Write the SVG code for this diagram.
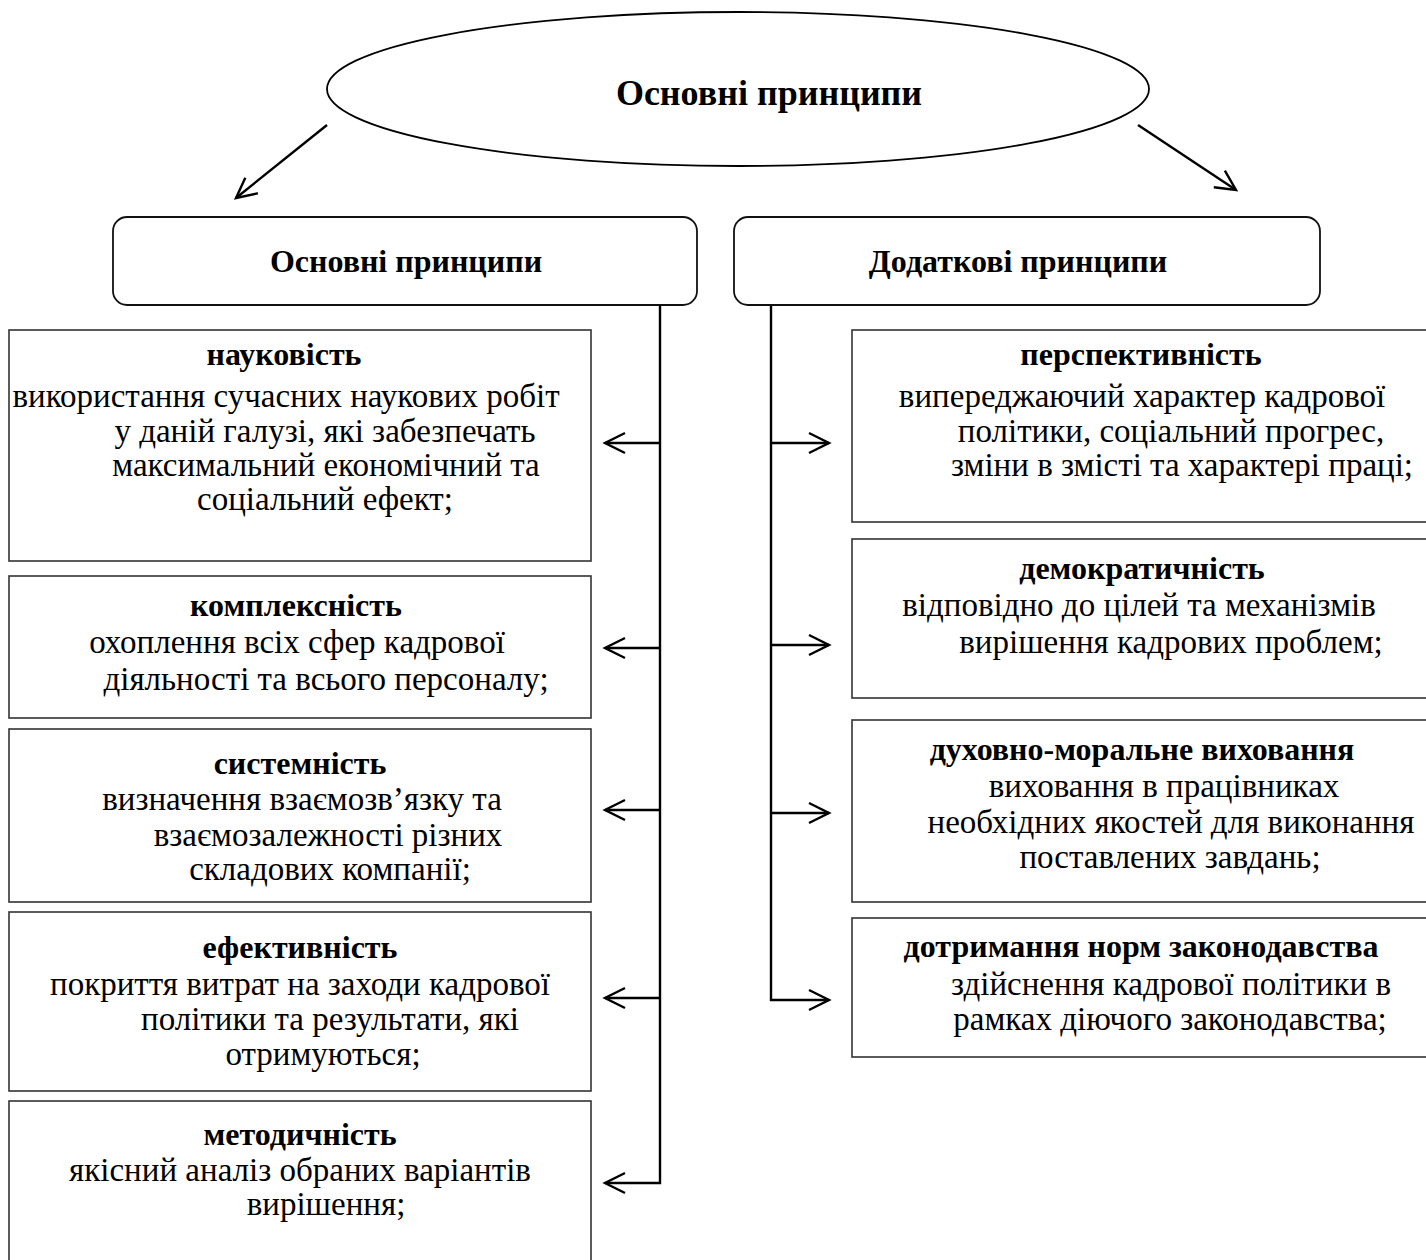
<svg xmlns="http://www.w3.org/2000/svg" width="1426" height="1260" viewBox="0 0 1426 1260">
<style>
text{font-family:"Liberation Serif","Times New Roman",serif;font-size:33px;fill:#000;text-anchor:middle}
.b{font-weight:bold;font-size:32px}
.t{font-size:36px;font-weight:bold}
.box{fill:#fff;stroke:#333;stroke-width:1.6}
.hdr{fill:#fff;stroke:#111;stroke-width:1.8}
.ln{fill:none;stroke:#000;stroke-width:2.4}
</style>
<defs>
<marker id="ah" markerUnits="userSpaceOnUse" markerWidth="26" markerHeight="26" viewBox="0 0 26 26" refX="23" refY="13" orient="auto">
<path d="M3,3 L23,13 L3,23" fill="none" stroke="#000" stroke-width="2.4"/>
</marker>
</defs>
<rect width="1426" height="1260" fill="#fff"/>

<g id="root">
<ellipse cx="738" cy="89" rx="411" ry="77" fill="#fff" stroke="#000" stroke-width="1.8"/>
<text class="t" x="769" y="105">Основні принципи</text>
</g>

<g id="connectors">
<line class="ln" x1="327" y1="125" x2="236" y2="198" marker-end="url(#ah)"/>
<line class="ln" x1="1138" y1="125" x2="1236" y2="190" marker-end="url(#ah)"/>
<polyline class="ln" points="660,305 660,1183 605,1183" marker-end="url(#ah)"/>
<line class="ln" x1="660" y1="443" x2="605" y2="443" marker-end="url(#ah)"/>
<line class="ln" x1="660" y1="648" x2="605" y2="648" marker-end="url(#ah)"/>
<line class="ln" x1="660" y1="810" x2="605" y2="810" marker-end="url(#ah)"/>
<line class="ln" x1="660" y1="998" x2="605" y2="998" marker-end="url(#ah)"/>
<polyline class="ln" points="771,305 771,1000 829,1000" marker-end="url(#ah)"/>
<line class="ln" x1="771" y1="443" x2="829" y2="443" marker-end="url(#ah)"/>
<line class="ln" x1="771" y1="645" x2="829" y2="645" marker-end="url(#ah)"/>
<line class="ln" x1="771" y1="813" x2="829" y2="813" marker-end="url(#ah)"/>
</g>

<g id="hdr-main">
<rect class="hdr" x="113" y="217" width="584" height="88" rx="14"/>
<text class="b" x="406" y="272">Основні принципи</text>
</g>
<g id="hdr-extra">
<rect class="hdr" x="734" y="217" width="586" height="88" rx="14"/>
<text class="b" x="1018" y="272">Додаткові принципи</text>
</g>

<g id="naukovist">
<rect class="box" x="9" y="330" width="582" height="231"/>
<text class="b" x="284" y="365">науковість</text>
<text x="286" y="407">використання сучасних наукових робіт</text>
<text x="325" y="442">у даній галузі, які забезпечать</text>
<text x="326" y="476">максимальний економічний та</text>
<text x="325" y="510">соціальний ефект;</text>
</g>

<g id="kompleksnist">
<rect class="box" x="9" y="576" width="582" height="142"/>
<text class="b" x="296" y="616">комплексність</text>
<text x="297" y="653">охоплення всіх сфер кадрової</text>
<text x="326" y="690">діяльності та всього персоналу;</text>
</g>

<g id="systemnist">
<rect class="box" x="9" y="729" width="582" height="173"/>
<text class="b" x="300" y="774">системність</text>
<text x="302" y="810">визначення взаємозв’язку та</text>
<text x="328" y="846">взаємозалежності різних</text>
<text x="330" y="880">складових компанії;</text>
</g>

<g id="efektyvnist">
<rect class="box" x="9" y="912" width="582" height="179"/>
<text class="b" x="300" y="958">ефективність</text>
<text x="300" y="995">покриття витрат на заходи кадрової</text>
<text x="330" y="1030">політики та результати, які</text>
<text x="323" y="1065">отримуються;</text>
</g>

<g id="metodychnist">
<rect class="box" x="9" y="1101" width="582" height="175"/>
<text class="b" x="300" y="1145">методичність</text>
<text x="300" y="1181">якісний аналіз обраних варіантів</text>
<text x="326" y="1215">вирішення;</text>
</g>

<g id="perspektyvnist">
<rect class="box" x="852" y="330" width="590" height="192"/>
<text class="b" x="1141" y="365">перспективність</text>
<text x="1142" y="407">випереджаючий характер кадрової</text>
<text x="1171" y="442">політики, соціальний прогрес,</text>
<text x="1182" y="476">зміни в змісті та характері праці;</text>
</g>

<g id="demokratychnist">
<rect class="box" x="852" y="539" width="590" height="159"/>
<text class="b" x="1142" y="579">демократичність</text>
<text x="1139" y="616">відповідно до цілей та механізмів</text>
<text x="1171" y="653">вирішення кадрових проблем;</text>
</g>

<g id="dukhovno">
<rect class="box" x="852" y="720" width="590" height="182"/>
<text class="b" x="1142" y="760">духовно-моральне виховання</text>
<text x="1164" y="797">виховання в працівниках</text>
<text x="1171" y="833">необхідних якостей для виконання</text>
<text x="1170" y="868">поставлених завдань;</text>
</g>

<g id="dotrymannia">
<rect class="box" x="852" y="918" width="590" height="139"/>
<text class="b" x="1141" y="957">дотримання норм законодавства</text>
<text x="1171" y="995">здійснення кадрової політики в</text>
<text x="1170" y="1030">рамках діючого законодавства;</text>
</g>
</svg>
